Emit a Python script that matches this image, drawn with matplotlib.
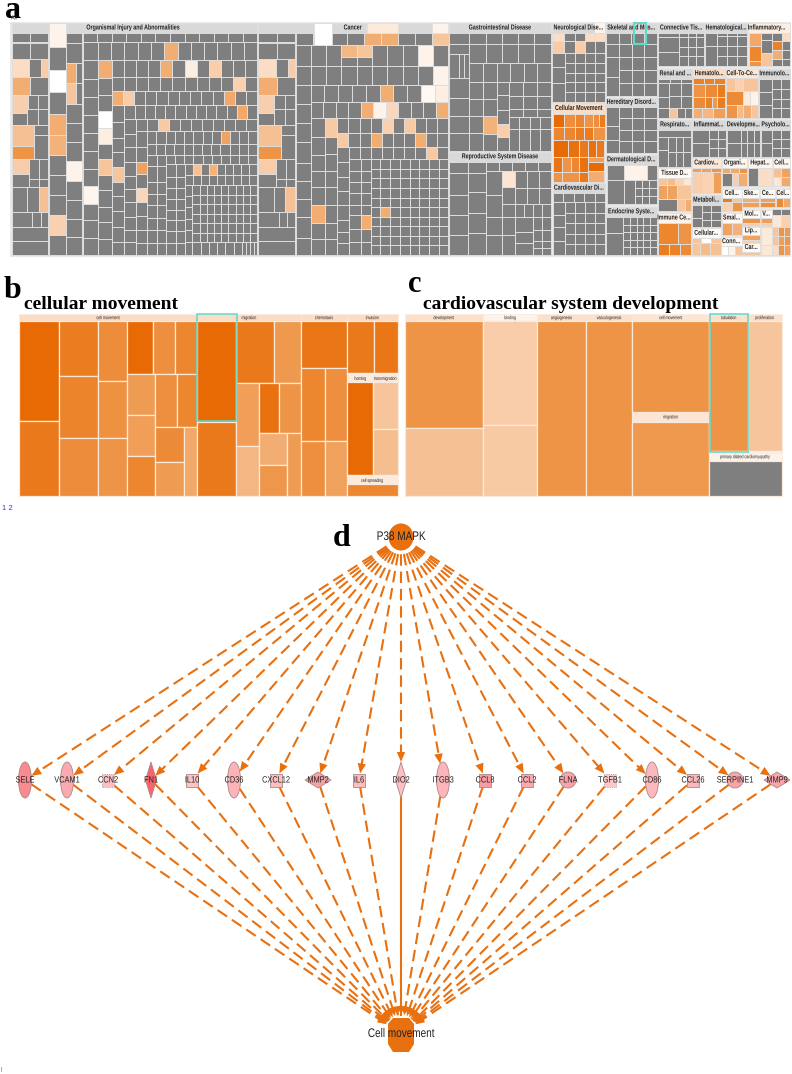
import matplotlib
matplotlib.use("Agg")
import matplotlib.pyplot as plt
from matplotlib.patches import Rectangle, Ellipse, Polygon
from matplotlib.patheffects import AbstractPathEffect
from matplotlib.transforms import Affine2D, Bbox
import numpy as np

plt.rcParams['font.family'] = ['Liberation Sans']
SERIF = ['Liberation Serif']

# ---------- colour scale (activation level, 0 = white ... 7 = deep orange, -1 = no call) ----------
LEVEL_STOPS = [0, 1, 2, 3, 4, 5, 6, 7]
LEVEL_RGB = ['#ffffff', '#fdf3ea', '#fbdcc4', '#f6c59c', '#f2ad72', '#ee9446', '#ea7d20', '#e86a05']
GREY = '#7f7f7f'
HEAD_GREY = '#d9d9d9'
GAP = '#dedede'
TEAL = '#5fd9c8'

GENES = ['SELE', 'VCAM1', 'CCN2', 'FN1', 'IL10', 'CD36', 'CXCL12', 'MMP2', 'IL6', 'DIO2',
         'ITGB3', 'CCL8', 'CCL2', 'FLNA', 'TGFB1', 'CD86', 'CCL26', 'SERPINE1', 'MMP9']
GENE_X = [25, 67, 108, 151, 192, 234, 276, 318, 359, 401, 443, 485, 527, 568, 610, 652, 693, 735, 777]
GENE_SHAPE = ['e', 'e', 'b', 'd', 'b', 'e', 'b', 'D', 'b', 'd', 'e', 'b', 'b', 'c', 'b', 'e', 'b', 'c', 'D']
GENE_COLOR = ['#f98a8f', '#fcaab0', '#fbc0c3', '#f8636d', '#fdc4c6', '#fcb3b8', '#fcc0c4', '#f9a0a5',
              '#fcbcc0', '#fcc0c4', '#fcb5ba', '#f99ca0', '#fbaab0', '#f9a3a8', '#fcc8cb', '#fcb8bc',
              '#fbb8bc', '#f9a5a8', '#f9a5ac']
GENE_DASHED_BORDER = ['CCN2', 'TGFB1']
GENE_SOLID_TO_TARGET = ['DIO2']
UPSTREAM = 'P38 MAPK'
TARGET = 'Cell movement'

PANEL_B_TITLE = 'cellular movement'
PANEL_C_TITLE = 'cardiovascular system development'


def shade(level):
    if level < 0:
        return GREY
    rgb = np.array([matplotlib.colors.to_rgb(c) for c in LEVEL_RGB])
    return tuple(np.interp(level, LEVEL_STOPS, rgb[:, i]) for i in range(3))


fig = plt.figure(figsize=(7.92, 10.74), dpi=100)
ax = fig.add_axes([0, 0, 1, 1])
ax.set_xlim(0, 792)
ax.set_ylim(1074, 0)
ax.axis('off')


class Squeeze(AbstractPathEffect):
    """Condensed type: narrows the glyphs horizontally about the middle of the string."""

    def __init__(self, k):
        super().__init__()
        self.k = k

    def draw_path(self, renderer, gc, tpath, affine, rgbFace=None):
        ext = tpath.get_extents()
        cx = (ext.x0 + ext.x1) / 2
        local = Affine2D().translate(-cx, 0).scale(self.k, 1).translate(cx, 0)
        renderer.draw_path(gc, tpath, local + affine, rgbFace)


def narrow(x, y, s, k=0.78, **kw):
    t = ax.text(x, y, s, **kw)
    t.set_path_effects([Squeeze(k)])
    orig = t.get_window_extent

    def extent(renderer=None, dpi=None):
        b = orig(renderer, dpi)
        cx = (b.x0 + b.x1) / 2
        return Bbox.from_extents(cx - b.width * k / 2, b.y0, cx + b.width * k / 2, b.y1)

    t.get_window_extent = extent
    return t


def cell(x0, y0, x1, y1, level=-1, edge=GAP, lw=0.7, z=2):
    ax.add_patch(Rectangle((x0, y0), x1 - x0, y1 - y0, facecolor=shade(level), edgecolor=edge, linewidth=lw, zorder=z))


S = 1 / 3  # panel a is described in 3x coordinates


def row(y0, y1, x0, x1, n, hi=None):
    hi = hi or {}
    xs = np.linspace(x0, x1, n + 1) if isinstance(n, int) else None
    if xs is None:
        xs = [x0] + list(n) + [x1]
    for i in range(len(xs) - 1):
        cell(xs[i] * S, y0 * S, xs[i + 1] * S, y1 * S, hi.get(i, -1))


def col(x0, x1, ys, hi=None):
    hi = hi or {}
    for i in range(len(ys) - 1):
        cell(x0 * S, ys[i] * S, x1 * S, ys[i + 1] * S, hi.get(i, -1))


def grid(x0, x1, y0, y1, nx, ny, hi=None):
    hi = hi or {}
    xs = np.linspace(x0, x1, nx + 1)
    ys = np.linspace(y0, y1, ny + 1)
    for j in range(ny):
        for i in range(nx):
            cell(xs[i] * S, ys[j] * S, xs[i + 1] * S, ys[j + 1] * S, hi.get((i, j), -1))


def head(x0, x1, y0, y1, label, level=None, size=5.2, tx=None):
    lv = level
    face = HEAD_GREY if lv is None else shade(lv)
    ax.add_patch(Rectangle((x0 * S, y0 * S), (x1 - x0) * S, (y1 - y0) * S, facecolor=face, edgecolor=GAP, linewidth=0.5, zorder=2))
    narrow((x0 + x1) / 2 * S if tx is None else tx * S, (y0 + y1) / 2 * S, label, k=0.74, ha='center', va='center',
           fontsize=size, fontweight='bold', color='#222222', zorder=5)


# ---------- panel a ----------
ax.add_patch(Rectangle((10, 22), 781, 235, facecolor='#e8e8e8', edgecolor='none', zorder=1))


def left_block(dx):
    row(100, 125, 35 + dx, 145 + dx, 2)
    row(128, 178, 35 + dx, 145 + dx, 2)
    row(178, 230, 35 + dx, 145 + dx, [88 + dx, 123 + dx], {0: 2, 2: 2.7})
    row(230, 285, 35 + dx, 145 + dx, [90 + dx], {0: 4})
    row(285, 340, 35 + dx, 83 + dx, 1, {0: 2.6})
    row(285, 328, 83 + dx, 145 + dx, 2)
    row(340, 375, 35 + dx, 82 + dx, 1)
    row(328, 375, 82 + dx, 145 + dx, 2)
    col(35 + dx, 102 + dx, [375, 438, 476], {0: 3.2, 1: 5})
    col(102 + dx, 145 + dx, [375, 405, 476])
    row(476, 523, 35 + dx, 88 + dx, 1, {0: 2.7})
    row(476, 538, 88 + dx, 145 + dx, 2)
    row(523, 562, 35 + dx, 88 + dx, 1)
    row(538, 562, 88 + dx, 145 + dx, 2)
    row(562, 636, 35 + dx, 145 + dx, [82 + dx, 116 + dx], {2: 3.2})
    row(636, 680, 35 + dx, 145 + dx, [97 + dx, 122 + dx])
    col(35 + dx, 145 + dx, [680, 723, 765])


# Organismal Injury and Abnormalities
head(35, 772, 70, 98, 'Organismal Injury and Abnormalities', tx=400)
left_block(0)
col(147, 198, [70, 140, 209, 276, 343, 404, 466, 526, 586, 646, 706, 765], {0: 1, 2: 0, 4: 4, 5: 3.8, 8: -1, 9: 2.5})
col(198, 247, [98, 129, 189, 250, 311, 368, 426, 484, 543, 601, 656, 711, 765], {7: 1})
col(198, 228, [189, 250, 311], {0: 4, 1: 3})
row(98, 125, 248, 772, 12)
row(125, 180, 293, 772, 12, {5: 4})
col(248, 293, [125, 181, 236, 291, 346, 399, 453, 506, 558, 611, 661, 713, 765], {8: 0.8})
col(293, 335, [181, 233, 285, 333, 383, 431, 476, 526, 571, 621, 666, 716, 765], {0: 4, 3: 0, 4: 1.2, 6: 3})
row(181, 231, 335, 772, 12, {4: 4, 6: 1.2, 8: 2.6})
row(231, 273, 335, 772, 12, {10: 2.5})
row(273, 316, 335, 772, 13, {0: 4, 1: 2.7, 10: 4.2})
col(335, 373, [316, 366, 413, 456, 500, 546, 589, 633, 681, 726, 765], {4: 3})
row(316, 356, 373, 772, 13, {11: 4.2})
col(373, 407, [356, 401, 441, 485, 528, 566, 606, 651, 691, 726, 765])
row(356, 393, 407, 772, 11, {2: 2.8})
col(407, 440, [393, 441, 485, 523, 563, 606, 649, 691, 728, 765], {2: 4.5, 4: 2.3})
row(393, 431, 440, 498, 2)
row(393, 431, 498, 772, 10, {6: 4.4})
row(431, 464, 440, 772, 12)
row(464, 493, 498, 772, 10)
col(440, 470, [464, 499, 546, 581, 616, 653, 689, 728, 765])
col(470, 498, [464, 499, 546, 581, 616, 653, 689, 728, 765])
col(498, 527, [493, 531, 563, 596, 629, 661, 693, 728, 765])
col(527, 555, [493, 531, 563, 596, 629, 661, 693, 728, 765])
row(493, 525, 555, 772, 9, {1: 3.2, 3: 3.8})
row(525, 556, 555, 772, 9)
col(555, 577, [556, 589, 621, 656, 691, 726, 765])
grid(577, 772, 556, 726, 9, 6)
row(726, 765, 577, 726, 6)
row(726, 765, 726, 772, 4)

# Cancer
head(775, 1345, 70, 98, 'Cancer', tx=1058)
ax.add_patch(Rectangle((1100 * S, 70 * S), 95 * S, 28 * S, facecolor=shade(1.4), edgecolor=GAP, linewidth=0.4, zorder=3))
ax.add_patch(Rectangle((1295 * S, 70 * S), 50 * S, 28 * S, facecolor=shade(1), edgecolor=GAP, linewidth=0.4, zorder=3))
left_block(740)
row(98, 135, 887, 1346, 9, {4: 4, 5: 4, 8: 3})
ax.add_patch(Rectangle((943 * S, 70 * S), 54 * S, 65 * S, facecolor='white', edgecolor=GAP, linewidth=0.6, zorder=3))
row(135, 197, 887, 1345, 10, {3: 3.6, 4: 3, 8: 1})
row(170, 197, 1024, 1116, 2)
row(197, 255, 887, 1345, 10, {9: 1})
col(887, 932, [255, 312, 370, 427, 490, 542, 596, 651, 714, 765])
row(255, 305, 932, 1345, 10, {5: 4, 8: 0.6, 9: 1.2})
row(305, 355, 932, 1345, 11, {4: 4, 5: 1, 6: 2.2, 10: 4})
col(932, 975, [355, 412, 465, 512, 560, 616, 668, 718, 765], {5: 4})
col(975, 1012, [355, 410, 462, 512, 560, 616, 668, 718, 765], {0: 2.8})
row(355, 400, 1012, 1345, 10, {4: 2.5, 6: 2.8})
row(400, 440, 1012, 1345, 10, {0: 2.8, 3: 4, 7: 4})
col(1012, 1048, [440, 487, 531, 572, 616, 660, 695, 730, 765])
row(440, 478, 1048, 1345, 9, {7: 2.8})
col(1048, 1082, [478, 512, 546, 580, 614, 645, 686, 725, 765])
col(1082, 1112, [478, 512, 546, 580, 614, 645, 686, 725, 765], {5: 4})
grid(1112, 1345, 478, 765, 8, 10, {(1, 5): 4})

# Gastrointestinal Disease
X = 1200
head(148 + X, 452 + X, 70, 98, 'Gastrointestinal Disease')
col(148 + X, 208 + X, [98, 132, 162, 235, 295, 348, 400, 452])
row(162, 235, 148 + X, 208 + X, [178 + X, 193 + X])
row(98, 132, 208 + X, 452 + X, 5)
row(132, 190, 208 + X, 452 + X, 5)
col(208 + X, 250 + X, [190, 245, 297, 347, 400, 452])
row(190, 245, 250 + X, 452 + X, 5)
col(250 + X, 292 + X, [245, 298, 348, 402, 452], {2: 3.8})
col(292 + X, 326 + X, [245, 285, 330, 372, 412, 452], {3: 2.6})
row(245, 288, 326 + X, 452 + X, 3)
row(288, 326, 326 + X, 452 + X, 3)
row(326, 350, 326 + X, 452 + X, 3)
row(350, 388, 326 + X, 452 + X, 4)
row(388, 452, 326 + X, 452 + X, 4)

# Reproductive System Disease
head(148 + X, 452 + X, 455, 486, 'Reproductive System Disease')
col(148 + X, 205 + X, [486, 520, 585, 645, 705, 765])
col(205 + X, 257 + X, [486, 520, 575, 640, 700, 765])
row(486, 512, 257 + X, 452 + X, 5)
col(257 + X, 307 + X, [512, 585, 650, 705, 765])
col(307 + X, 345 + X, [512, 562, 612, 650, 705, 765], {0: 1.6})
row(512, 563, 345 + X, 452 + X, 3)
row(563, 612, 345 + X, 452 + X, 3)
row(612, 652, 345 + X, 452 + X, 4)
col(345 + X, 400 + X, [652, 695, 730, 765])
grid(400 + X, 452 + X, 652, 765, 2, 3)
row(722, 745, 400 + X, 452 + X, 2)

# Neurological
head(457 + X, 615 + X, 70, 98, 'Neurological Dise...', tx=535 + X)
ax.add_patch(Rectangle(((585 + X) * S, 70 * S), 30 * S, 28 * S, facecolor=shade(1), edgecolor='none', zorder=3))
row(98, 122, 457 + X, 615 + X, [493 + X, 524 + X, 555 + X, 585 + X], {0: 2, 3: 2, 4: 2})
row(122, 160, 457 + X, 615 + X, [493 + X, 524 + X, 555 + X, 585 + X], {0: 2.7, 2: 2.7})
col(457 + X, 495 + X, [160, 200, 250, 305])
grid(495 + X, 615 + X, 160, 305, 4, 5)

# Cellular Movement
head(458 + X, 615 + X, 310, 341, 'Cellular Movement', level=2)
row(341, 380, 458 + X, 615 + X, [492 + X, 525 + X, 552 + X, 580 + X, 598 + X], {0: 7, 1: 5.2, 2: 5.6, 3: 5, 4: 5.2, 5: 6})
row(380, 421, 458 + X, 615 + X, [492 + X, 525 + X, 552 + X, 580 + X], {0: 5.6, 1: 5.6, 2: 6, 3: 6, 4: 5})
row(421, 470, 458 + X, 612 + X, [503 + X, 538 + X, 563 + X, 587 + X], {0: 7, 1: 6.6, 2: 6.2, 3: 6.7, 4: 6.2})
row(470, 515, 458 + X, 563 + X, [487 + X, 512 + X, 538 + X], {0: 6.4, 1: 5, 2: 5.6, 3: 6.6})
row(515, 545, 458 + X, 563 + X, [487 + X, 538 + X], {0: 5, 1: 5, 2: 6.2})
cell((563 + X) * S, 485 * S, (612 + X) * S, 512 * S, 7)
cell((563 + X) * S, 512 * S, (612 + X) * S, 545 * S, 4)
cell((563 + X) * S, 470 * S, (612 + X) * S, 485 * S, 4.6)

# Cardiovascular
head(458 + X, 615 + X, 550, 579, 'Cardiovascular Di...')
row(579, 606, 458 + X, 615 + X, 5)
col(458 + X, 495 + X, [606, 645, 682, 722, 765])
grid(495 + X, 615 + X, 606, 765, 4, 5)

# Skeletal
head(618 + X, 770 + X, 70, 98, 'Skeletal and Mus...')
row(98, 132, 618 + X, 770 + X, 4)
col(618 + X, 657 + X, [132, 172, 230, 288])
grid(657 + X, 770 + X, 132, 288, 3, 4)
ax.add_patch(Rectangle(((703 + X) * S, 69 * S), 36 * S, 62 * S, facecolor='none', edgecolor=TEAL, linewidth=1.5, zorder=6))

# Hereditary
head(618 + X, 770 + X, 293, 321, 'Hereditary Disord...')
col(618 + X, 657 + X, [321, 378, 420, 458])
grid(657 + X, 770 + X, 321, 458, 3, 4)

# Dermatological
head(618 + X, 770 + X, 465, 494, 'Dermatological D...')
col(620 + X, 672 + X, [494, 540, 612])
cell((672 + X) * S, 494 * S, (742 + X) * S, 541 * S, 1)
cell((742 + X) * S, 494 * S, (770 + X) * S, 541 * S, -1)
col(672 + X, 705 + X, [541, 612])
grid(705 + X, 770 + X, 541, 612, 3, 3)

# Endocrine
head(618 + X, 770 + X, 620, 651, 'Endocrine Syste...')
col(618 + X, 670 + X, [651, 700, 765])
grid(670 + X, 770 + X, 651, 765, 5, 5)

# Connective / Hematological / Inflammatory
head(775 + X, 912 + X, 70, 98, 'Connective Tis...')
col(775 + X, 838 + X, [98, 112, 155, 198])
row(98, 112, 838 + X, 912 + X, 3)
grid(838 + X, 912 + X, 112, 198, 3, 3)
head(914 + X, 1042 + X, 70, 98, 'Hematological...')
col(914 + X, 950 + X, [98, 138, 198])
row(98, 108, 950 + X, 1042 + X, 3)
grid(950 + X, 1042 + X, 108, 198, 3, 3)
head(1045 + X, 1170 + X, 70, 98, 'Inflammatory...', level=1.2, tx=1100 + X)
col(1047 + X, 1083 + X, [98, 139, 183, 198], {0: 4.2, 1: 5.6, 2: 5})
col(1083 + X, 1115 + X, [98, 120, 160, 198], {2: 3})
col(1115 + X, 1145 + X, [98, 122, 151, 178, 198], {1: 5.8, 2: 4})
col(1145 + X, 1170 + X, [98, 122, 151, 178, 198], {0: 2})

# Second row
head(775 + X, 877 + X, 207, 236, 'Renal and ...')
row(236, 250, 775 + X, 877 + X, 3)
col(775 + X, 808 + X, [250, 290, 325, 355])
grid(808 + X, 877 + X, 250, 325, 2, 2)
row(325, 355, 808 + X, 877 + X, [832 + X, 855 + X], {0: 3})

head(880 + X, 975 + X, 207, 235, 'Hematolo...', level=2)
row(235, 252, 880 + X, 975 + X, 3, {0: 5.8, 1: 5.8, 2: 5.8})
row(252, 290, 880 + X, 975 + X, [915 + X, 950 + X], {0: 5, 1: 5.4, 2: 6})
row(290, 325, 880 + X, 975 + X, [915 + X, 935 + X, 950 + X], {0: 5.4, 1: 5.8, 2: 4.8, 3: 6})
row(325, 355, 880 + X, 975 + X, [905 + X, 938 + X], {0: 4, 1: 3.6, 2: 4.6})

head(978 + X, 1073 + X, 207, 235, 'Cell-To-Ce...', level=1.5)
row(235, 272, 978 + X, 1073 + X, [1005 + X, 1030 + X], {0: 3, 1: 2.5, 2: 3})
row(272, 315, 978 + X, 1073 + X, [1030 + X, 1050 + X], {0: 5.4, 1: 1.4, 2: 1})
row(315, 355, 978 + X, 1073 + X, [1012 + X, 1030 + X, 1052 + X], {0: 5, 1: 3.4, 2: 4, 3: 3})

head(1077 + X, 1170 + X, 207, 236, 'Immunolo...')
col(1077 + X, 1115 + X, [236, 275, 315, 355])
grid(1115 + X, 1170 + X, 236, 355, 2, 4)

head(775 + X, 873 + X, 360, 389, 'Respirato...')
row(389, 412, 775 + X, 873 + X, 1)
col(775 + X, 805 + X, [412, 450, 500])
grid(805 + X, 873 + X, 412, 500, 3, 2)
head(875 + X, 977 + X, 360, 389, 'Inflammat...')
col(875 + X, 928 + X, [389, 430, 470])
grid(928 + X, 977 + X, 389, 470, 2, 3)
head(980 + X, 1080 + X, 360, 389, 'Developme...')
col(980 + X, 1022 + X, [389, 430, 470])
grid(1022 + X, 1080 + X, 389, 470, 3, 2)
head(1083 + X, 1170 + X, 360, 389, 'Psycholo...')
col(1083 + X, 1115 + X, [389, 430, 470])
grid(1115 + X, 1170 + X, 389, 470, 2, 3)

head(775 + X, 873 + X, 505, 535, 'Tissue D...', level=0.5)
row(535, 555, 775 + X, 873 + X, 4, {0: 3, 1: 3.4, 2: 2.4, 3: 1.5})
row(555, 598, 775 + X, 873 + X, [800 + X, 830 + X], {0: 4.4, 1: 4.4, 2: 3})
row(598, 632, 775 + X, 873 + X, [830 + X, 855 + X], {0: -1, 1: 3, 2: 4})

head(875 + X, 962 + X, 475, 503, 'Cardiov...', level=1.5)
row(503, 515, 875 + X, 962 + X, 3, {0: 4.6, 1: 4.4, 2: 5})
row(515, 580, 875 + X, 962 + X, [910 + X, 938 + X], {0: 2.6, 1: 2.4, 2: 4.6})
head(965 + X, 1042 + X, 475, 503, 'Organi...', level=0.8)
row(503, 518, 965 + X, 1042 + X, 3, {0: 4.2, 1: 4.2, 2: 5})
row(518, 558, 965 + X, 1042 + X, [995 + X, 1015 + X], {0: -1, 1: 2.6, 2: 4})
head(1045 + X, 1115 + X, 475, 503, 'Hepat...', level=0.8)
row(503, 558, 1045 + X, 1115 + X, [1075 + X], {0: -1, 1: 2})
head(1118 + X, 1170 + X, 475, 503, 'Cell...', level=0.8)
row(503, 530, 1118 + X, 1170 + X, 2, {0: 3.2, 1: 4.4})
row(530, 558, 1118 + X, 1170 + X, 2, {0: 1.5, 1: 4.2})

head(875 + X, 962 + X, 585, 616, 'Metaboli...')
col(875 + X, 905 + X, [616, 655, 680])
grid(905 + X, 962 + X, 616, 680, 2, 3)
head(875 + X, 962 + X, 685, 715, 'Cellular...', level=0.5)
row(715, 728, 875 + X, 962 + X, 3, {0: 3, 1: 0, 2: 3})
row(728, 765, 875 + X, 962 + X, [900 + X, 930 + X], {0: 3, 1: 3.4, 2: 3.2})

head(965 + X, 1025 + X, 568, 593, 'Cell...', level=0.5)
row(593, 605, 965 + X, 1025 + X, [995 + X], {0: 6, 1: 3})
row(605, 633, 965 + X, 1025 + X, [995 + X], {0: 2.5, 1: 5})
head(1027 + X, 1078 + X, 568, 593, 'Ske...', level=0.5)
col(1027 + X, 1078 + X, [593, 605, 620], {0: 4, 1: 4.6})
head(1080 + X, 1125 + X, 568, 593, 'Ce...', level=0.5)
col(1080 + X, 1125 + X, [593, 605, 620], {0: 4.6, 1: 5.2})
head(1127 + X, 1170 + X, 568, 593, 'Cel...', level=0.5)
row(593, 620, 1127 + X, 1170 + X, 2, {0: 5.4, 1: 4.2})

head(965 + X, 1025 + X, 640, 668, 'Smal...', level=0.5)
row(668, 705, 965 + X, 1025 + X, 2, {0: 4.4, 1: 3.8})
head(962 + X, 1025 + X, 712, 738, 'Conn...', level=0.5)
row(738, 765, 962 + X, 1025 + X, 3, {0: 0, 1: 1, 2: 3})
head(1027 + X, 1080 + X, 630, 655, 'Mol...', level=0.5)
col(1027 + X, 1080 + X, [655, 668, 678], {0: 5, 1: 2.6})
head(1082 + X, 1115 + X, 630, 655, 'V...', level=0.5)
col(1082 + X, 1115 + X, [655, 668, 678], {0: 4.6, 1: 2.6})
head(1027 + X, 1080 + X, 680, 705, 'Lip...', level=0.5)
col(1027 + X, 1080 + X, [705, 720, 728], {0: 4.4, 1: 2.6})
head(1027 + X, 1080 + X, 730, 755, 'Car...', level=0.5)
cell((1027 + X) * S, 755 * S, (1080 + X) * S, 765 * S, 3)
row(628, 645, 1117 + X, 1170 + X, 2)
row(645, 680, 1117 + X, 1170 + X, 2, {0: 1.5, 1: 2.5})
row(680, 708, 1115 + X, 1170 + X, 3, {0: 3, 1: 5, 2: 4.8})
row(708, 735, 1115 + X, 1170 + X, 3, {0: 3, 1: 4.6, 2: 5})
row(735, 765, 1115 + X, 1170 + X, 3, {0: 2, 1: 5, 2: 4.6})
col(1082 + X, 1115 + X, [680, 735, 765], {0: 1.4, 1: 1.5})

head(775 + X, 873 + X, 640, 668, 'Immune Ce...', level=1, tx=822 + X)
row(668, 732, 775 + X, 873 + X, [835 + X], {0: 5.6, 1: 5})
row(732, 765, 775 + X, 873 + X, 3, {0: 6, 1: 5.8, 2: 5.4})

narrow(14, 18, 'All', fontsize=4.5, ha='center', va='center', color='#222222', zorder=8)

# ---------- panels b and c: slice-and-dice treemaps driven by nested sizes ----------
GAP2 = '#fbe9dc'


def tile(node, x0, y0, x1, y1, horizontal):
    total = sum(n[0] for n in node)
    pos = x0 if horizontal else y0
    span = (x1 - x0) if horizontal else (y1 - y0)
    for size, child in node:
        step = span * size / total
        if horizontal:
            box = (pos, y0, pos + step, y1)
        else:
            box = (x0, pos, x1, pos + step)
        if isinstance(child, list):
            tile(child, *box, not horizontal)
        elif isinstance(child, tuple):
            cell(*box, child[0], edge=GAP2, lw=0.5)
            narrow((box[0] + box[2]) / 2, (box[1] + box[3]) / 2, child[1], k=0.72, fontsize=3.6,
                   ha='center', va='center', color='#222222', zorder=5)
        else:
            cell(*box, child, edge=GAP2, lw=0.9)
        pos += step


PANEL_B = [
    (535, [(22, (2, 'cell movement')),
           (523, [(121, [(298, 7), (225, 6.2)]),
                  (117, [(165, 6), (185, 5.7), (173, 5.3)]),
                  (85, [(178, 5.3), (172, 5.1), (173, 5)]),
                  (212, [(157, [(78, 7), (68, 5.2), (66, 5.6)]),
                         (366, [(85, [(123, 4.7), (122, 4.6), (121, 5.6)]),
                                (127, [(160, [(66, 5.2), (61, 5.6)]),
                                       (206, [(87, [(105, 5.4), (101, 4.7)]), (40, 4.2)])])])])])]),
    (310, [(22, (2, 'migration')),
           (523, [(117, [(300, 7), (223, 6.2)]),
                  (193, [(185, [(114, 6.2), (79, 4.8)]),
                         (338, [(69, [(187, 4.6), (151, 3.6)]),
                                (124, [(150, [(60, 6.6), (64, 5)]),
                                       (188, [(82, [(95, 4), (93, 4.9)]), (42, 4.7)])])])])])]),
    (140, [(22, (2, 'chemotaxis')),
           (523, [(1, [(140, 6.4), (218, [(72, 5.6), (68, 5.2)]), (165, [(73, 5.2), (67, 4.5)])])])]),
    (150, [(22, (2, 'invasion')),
           (155, [(80, 6.2), (70, 6.3)]),
           (5, 1),
           (300, [(78, [(22, (1.4, 'homing')), (278, 7)]),
                  (72, [(22, (1.4, 'transmigration')), (139, 3), (139, 3.3)])]),
           (5, 1),
           (23, (1.4, 'cell spreading')),
           (35, 5.6)]),
]

PANEL_C = [
    (236, [(22, (1.8, 'development')), (320, 5), (203, 3.2)]),
    (162, [(22, (1, 'binding')), (310, 2.7), (213, 2.8)]),
    (147, [(22, (1.8, 'angiogenesis')), (523, 5)]),
    (138, [(22, (1.8, 'vasculogenesis')), (523, 5)]),
    (231, [(22, (1.6, 'cell movement')), (272, 5), (28, (1.6, 'migration')), (223, 4.8)]),
    (217, [(412, [(117, [(22, (1.8, 'tubulation')), (390, 5)]),
                  (100, [(22, (1.8, 'proliferation')), (390, 3)])]),
           (5, 1),
           (24, (1.0, 'primary dilated cardiomyopathy')),
           (106, -1)]),
]

tile(PANEL_B, 19, 314, 397.5, 496, True)
tile(PANEL_C, 404.7, 314, 781.7, 496, True)
ax.add_patch(Rectangle((197, 314), 40, 107, facecolor='none', edgecolor=TEAL, linewidth=1.1, zorder=6))
ax.add_patch(Rectangle((709.7, 314), 38.7, 138, facecolor='none', edgecolor=TEAL, linewidth=1.1, zorder=6))

ax.text(5, 18, 'a', fontsize=23, family=SERIF, fontweight='bold', ha='left', va='baseline', color='black', zorder=7)
ax.text(4, 298, 'b', fontsize=23, family=SERIF, fontweight='bold', ha='left', va='baseline', color='black')
ax.text(408, 292, 'c', fontsize=22, family=SERIF, fontweight='bold', ha='left', va='baseline', color='black')
ax.text(333, 546, 'd', fontsize=23, family=SERIF, fontweight='bold', ha='left', va='baseline', color='black')
ax.text(24, 309, PANEL_B_TITLE, fontsize=14, family=SERIF, fontweight='bold', ha='left', va='baseline', color='black')
ax.text(423, 309, PANEL_C_TITLE, fontsize=14, family=SERIF, fontweight='bold', ha='left', va='baseline', color='black')
ax.text(2, 508, '1 2', fontsize=5.5, color='#3a3ac8', ha='left', va='center')
ax.text(1, 1070, '|', fontsize=3.5, color='#3a3ac8', ha='left', va='center')

# ---------- panel d: network ----------
ORANGE = '#e8700f'
NODE_Y = 780
HALF = {'e': (6.5, 18), 'b': (6, 6.5), 'd': (5.5, 18), 'D': (13, 8), 'c': (8, 8)}
TOP = (401, 537)
BOTTOM = (401, 1034)


def clip_len(shape, dx, dy):
    hw, hh = HALF[shape]
    if shape in ('e', 'c'):
        return 1 / np.hypot(dx / hw, dy / hh)
    if shape == 'b':
        return 1 / max(abs(dx) / hw, abs(dy) / hh)
    return 1 / (abs(dx) / hw + abs(dy) / hh)


def arrow_head(tip, ux, uy, length=10, half=4.2):
    base = (tip[0] - ux * length, tip[1] - uy * length)
    px, py = -uy, ux
    ax.add_patch(Polygon([tip, (base[0] + px * half, base[1] + py * half), (base[0] - px * half, base[1] - py * half)],
                         closed=True, facecolor=ORANGE, edgecolor='none', zorder=4))


for name, gx, shape in zip(GENES, GENE_X, GENE_SHAPE):
    dx, dy = gx - TOP[0], NODE_Y - TOP[1]
    d = np.hypot(dx, dy)
    ux, uy = dx / d, dy / d
    t = clip_len(shape, ux, uy)
    tip = (gx - ux * t, NODE_Y - uy * t)
    ax.plot([TOP[0], tip[0] - ux * 6], [TOP[1], tip[1] - uy * 6], color=ORANGE, lw=1.5, dashes=(5.5, 2.8), zorder=3,
            dash_capstyle='butt')
    arrow_head(tip, ux, uy)

    dx, dy = BOTTOM[0] - gx, BOTTOM[1] - NODE_Y
    d = np.hypot(dx, dy)
    ux, uy = dx / d, dy / d
    t = clip_len(shape, ux, uy)
    start = (gx + ux * t, NODE_Y + uy * t)
    tr = 1 / np.hypot(ux / 17, uy / 19)
    end = (BOTTOM[0] - ux * tr, BOTTOM[1] - uy * tr)
    if name in GENE_SOLID_TO_TARGET:
        ax.plot([start[0], end[0]], [start[1], end[1]], color=ORANGE, lw=1.5, zorder=3)
    else:
        ax.plot([start[0], end[0]], [start[1], end[1]], color=ORANGE, lw=1.5, dashes=(5.5, 2.8), zorder=3,
                dash_capstyle='butt')
    arrow_head(end, ux, uy, length=9, half=3.8)

ax.add_patch(Ellipse(TOP, 25, 27, facecolor=ORANGE, edgecolor='none', zorder=5))
oct_pts = [(388, 1024), (393, 1018), (409, 1018), (414, 1024), (414, 1044), (409, 1052), (393, 1052), (388, 1044)]
ax.add_patch(Polygon(oct_pts, closed=True, facecolor=ORANGE, edgecolor='none', zorder=5))
narrow(401, 537, UPSTREAM, k=0.8, fontsize=9, ha='center', va='center', color='#222222', zorder=6)
narrow(401, 1034, TARGET, k=0.8, fontsize=9, ha='center', va='center', color='#222222', zorder=6)

for name, gx, shape, color in zip(GENES, GENE_X, GENE_SHAPE, GENE_COLOR):
    hw, hh = HALF[shape]
    kw = dict(facecolor=color, edgecolor='#a88888', linewidth=0.6, zorder=5,
              linestyle=':' if name in GENE_DASHED_BORDER else '-')
    if shape in ('e', 'c'):
        ax.add_patch(Ellipse((gx, NODE_Y), 2 * hw, 2 * hh, **kw))
    elif shape == 'b':
        ax.add_patch(Rectangle((gx - hw, NODE_Y - hh), 2 * hw, 2 * hh, **kw))
    else:
        ax.add_patch(Polygon([(gx, NODE_Y - hh), (gx + hw, NODE_Y), (gx, NODE_Y + hh), (gx - hw, NODE_Y)], closed=True, **kw))
    narrow(gx, NODE_Y, name, k=0.82, fontsize=6.5, ha='center', va='center', color='#222222', zorder=6)

fig.savefig('out.png', dpi=100)
